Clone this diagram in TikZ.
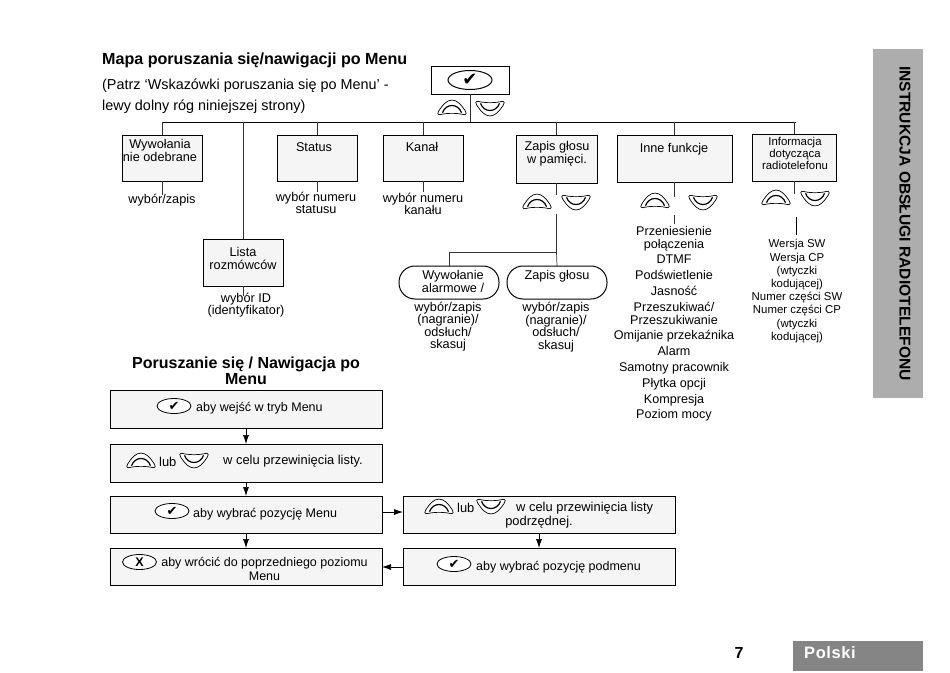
\documentclass[tikz,border=0pt]{standalone}
\usepackage{fontspec}
\setmainfont{Liberation Sans}
\newfontfamily\symfont{DejaVu Sans}
\usetikzlibrary{arrows.meta}
\tikzset{
  menubox/.style={draw=black,line width=1pt,fill=black!4,minimum width=#1,inner sep=0pt,outer sep=0pt,anchor=north west},
  boxcap/.style={font=\fontsize{12.7}{13}\selectfont,align=center,inner sep=0pt,anchor=north},
  smallcap/.style={font=\fontsize{11.4}{12}\selectfont,align=center,inner sep=0pt,anchor=north},
  listcap/.style={font=\fontsize{12.6}{15.8}\selectfont,align=center,inner sep=0pt,anchor=north},
  navtext/.style={font=\fontsize{12.9}{14}\selectfont,align=center,inner sep=0pt},
  navtextb/.style={font=\fontsize{12.5}{14}\selectfont,align=center,inner sep=0pt},
  link/.style={line width=.7pt,draw=black!80},
  flow/.style={line width=.7pt,-{Latex[length=9pt,width=6pt]}},
  pills/.style={draw=black,line width=1pt,fill=white,rounded corners=16pt,anchor=north west,inner sep=0pt,outer sep=0pt},
  pics/upkey/.style={code={
    \begin{scope}[yscale=1.22]
    \draw[line width=.7pt,fill=white] (-12,5.5) .. controls (-15,5.5) and (-14.5,3.5) .. (-13,2) .. controls (-9,-3) and (-5,-6.5) .. (0,-6.5) .. controls (5,-6.5) and (9,-3) .. (13,2) .. controls (14.5,3.5) and (15,5.5) .. (12,5.5) .. controls (6,4) and (-6,4) .. (-12,5.5) -- cycle;
    \draw[line width=1.2pt] (-9.5,3.8) .. controls (-6,-4) and (6,-4) .. (9.5,3.8);
    \end{scope}
  }},
  pics/downkey/.style={code={
    \begin{scope}[yscale=1.22]
    \draw[line width=.7pt,fill=white] (-12,-5.5) .. controls (-15,-5.5) and (-14.5,-3.5) .. (-13,-2) .. controls (-9,3) and (-5,6.5) .. (0,6.5) .. controls (5,6.5) and (9,3) .. (13,-2) .. controls (14.5,-3.5) and (15,-5.5) .. (12,-5.5) .. controls (6,-4) and (-6,-4) .. (-12,-5.5) -- cycle;
    \draw[line width=1.2pt] (-9.5,-3.8) .. controls (-6,4) and (6,4) .. (9.5,-3.8);
    \end{scope}
  }},
  pics/okkey/.style={code={
    \draw[line width=.8pt,fill=white] (0,0) ellipse (17 and 7.5);
    \node[inner sep=0pt,font=\symfont\fontsize{13}{13}\selectfont] at (0,0) {✔};
  }},
  pics/okbig/.style={code={
    \draw[line width=1pt,fill=white] (0,0) ellipse (22 and 9.5);
    \node[inner sep=0pt,font=\symfont\fontsize{18}{18}\selectfont] at (0,0) {✔};
  }},
  pics/xkey/.style={code={
    \draw[line width=.8pt,fill=white] (0,0) ellipse (17 and 7.5);
    \node[inner sep=0pt,font=\bfseries\fontsize{12.5}{12.5}\selectfont] at (0,0) {X};
  }},
}
\begin{document}
\begin{tikzpicture}[x=1pt,y=-1pt]
\useasboundingbox (0,0) rectangle (950,672);
% side tabs
\fill[black!32] (873,49) rectangle (923,398);
\fill[black!48] (793,641) rectangle (923,671);
\node[rotate=-90,font=\bfseries\fontsize{15.6}{16}\selectfont,inner sep=0pt] (side) at (905,223.5) {INSTRUKCJA OBSŁUGI RADIOTELEFONU};
\node[font=\bfseries\fontsize{16.5}{17}\selectfont,text=white,inner sep=0pt,anchor=west] (polski) at (804,653) {P\kern.6pt o\kern.6pt l\kern.6pt s\kern.6pt k\kern.6pt i};
\node[font=\bfseries\fontsize{16}{16}\selectfont,inner sep=0pt] (pagenum) at (739,653) {7};
% headings
\node[font=\bfseries\fontsize{16.1}{17}\selectfont,inner sep=0pt,anchor=west] (title) at (102,60) {Mapa poruszania się/nawigacji po Menu};
\node[font=\fontsize{14.4}{21}\selectfont,inner sep=0pt,anchor=north west,align=left] (note) at (102,79) {(Patrz ‘Wskazówki poruszania się po Menu’ -\\lewy dolny róg niniejszej strony)};
\node[font=\bfseries\fontsize{16}{16}\selectfont,inner sep=0pt,align=center] (navtitle) at (246,371) {Poruszanie się / Nawigacja po\\Menu};
% top box
\node[menubox=78pt,minimum height=28pt,fill=white] (top) at (431,66) {};
\pic at (470,80) {okbig};
\coordinate (busL) at (162,122);
\coordinate (busR) at (796,122);
\coordinate (busT) at (470,122);
\draw[link] (top.south) -- (busT);
\draw[link,draw=black] (busL) -- (busR);
\pic at (452,108) {upkey};
\pic at (490,108) {downkey};
% menu boxes
\node[menubox=80pt,minimum height=46pt] (a) at (122,135) {};
\node[menubox=80pt,minimum height=46pt] (b) at (277,135) {};
\node[menubox=80pt,minimum height=46pt] (c) at (383,135) {};
\node[menubox=81pt,minimum height=48pt] (d) at (516,135) {};
\node[menubox=115pt,minimum height=47pt] (e) at (617,135) {};
\node[menubox=84pt,minimum height=47pt] (f) at (752,134) {};
\node[menubox=80pt,minimum height=47pt] (g) at (203,239) {};
\node[boxcap] (at) at (160,139) {Wywołania\\nie odebrane};
\node[boxcap] (bt) at (314,142) {Status};
\node[boxcap] (ct) at (422,142) {Kanał};
\node[boxcap] (dt) at (557,141) {Zapis głosu\\w pamięci.};
\node[boxcap] (et) at (674,143) {Inne funkcje};
\node[smallcap] (ft) at (795,137) {Informacja\\dotycząca\\radiotelefonu};
\node[boxcap] (gt) at (243,247.5) {Lista\\rozmówców};
% bus drops
\draw[link] (a.north |- busL) -- (a.north);
\draw[link] (b.north |- busL) -- (b.north);
\draw[link] (c.north |- busL) -- (c.north);
\draw[link] (d.north |- busL) -- (d.north);
\draw[link] (e.north |- busL) -- (e.north);
\draw[link] (f.north |- busL) -- (f.north);
\draw[link] (g.north |- busL) -- (g.north);
% stubs
\coordinate (aS) at (162,195);
\coordinate (bS) at (317,192);
\coordinate (cS) at (423,192);
\coordinate (gS) at (243,296);
\draw[link] (a.south) -- (aS);
\draw[link] (b.south) -- (bS);
\draw[link] (c.south) -- (cS);
\draw[link] (g.south) -- (gS);
\coordinate (dS) at (556.5,195);
\coordinate (dT) at (556.5,214);
\coordinate (dJ) at (556.5,252);
\coordinate (eS) at (674.5,197);
\coordinate (eT) at (674.5,215);
\coordinate (eU) at (674.5,224);
\coordinate (fS) at (794,194);
\coordinate (fT) at (796,217);
\coordinate (fU) at (796,235);
\draw[link] (d.south) -- (dS);
\draw[link] (e.south) -- (eS);
\draw[link] (f.south) -- (fS);
\draw[link] (eT) -- (eU);
\draw[link,draw=black] (fT) -- (fU);
% key pairs
\pic at (537,202) {upkey};
\pic at (576,202) {downkey};
\pic at (655,201) {upkey};
\pic at (703,202) {downkey};
\pic at (776,198) {upkey};
\pic at (815,198) {downkey};
% pills
\node[pills,minimum width=100pt,minimum height=33pt] (p) at (399,266) {};
\node[pills,minimum width=100pt,minimum height=33pt] (q) at (507,266) {};
\node[boxcap] (pt) at (453,270) {Wywołanie\\alarmowe /};
\node[boxcap] (qt) at (557,270) {Zapis głosu};
\coordinate (pT) at (449,266);
\coordinate (pJ) at (449,252);
\draw[link] (dT) -- (dJ) -- (pJ) -- (pT);
\draw[link] (dJ) -- (q.north);
% captions
\node[boxcap] (al) at (162,194) {wybór/zapis};
\node[boxcap,font=\fontsize{12.7}{12.2}\selectfont] (bl) at (316,191.5) {wybór numeru\\statusu};
\node[boxcap,font=\fontsize{12.7}{12.2}\selectfont] (cl) at (423,192.5) {wybór numeru\\kanału};
\node[boxcap,font=\fontsize{12.7}{12.4}\selectfont] (gl) at (246,293) {wybór ID\\(identyfikator)};
\node[boxcap,font=\fontsize{12.7}{12.4}\selectfont] (pl) at (448,302) {wybór/zapis\\(nagranie)/\\odsłuch/\\skasuj};
\node[boxcap,font=\fontsize{12.7}{12.6}\selectfont] (ql) at (556,302) {wybór/zapis\\(nagranie)/\\odsłuch/\\skasuj};
\node[listcap] (elist) at (674,226) {Przeniesienie\\[-3pt]połączenia\\DTMF\\Podświetlenie\\Jasność\\Przeszukiwać/\\[-3pt]Przeszukiwanie\\Omijanie przekaźnika\\Alarm\\Samotny pracownik\\Płytka opcji\\Kompresja\\Poziom mocy};
\node[smallcap,font=\fontsize{11.4}{13.2}\selectfont] (flist) at (797,239.5) {Wersja SW\\Wersja CP\\(wtyczki\\kodującej)\\Numer części SW\\Numer części CP\\(wtyczki\\kodującej)};
% navigation boxes
\node[menubox=272pt,minimum height=38pt] (n1) at (110,390) {};
\node[menubox=272pt,minimum height=38pt] (n2) at (110,444) {};
\node[menubox=272pt,minimum height=37pt] (n3) at (110,496) {};
\node[menubox=272pt,minimum height=37pt] (n4) at (110,548) {};
\node[menubox=272pt,minimum height=37pt] (n5) at (403,496) {};
\node[menubox=272pt,minimum height=37pt] (n6) at (403,548) {};
\pic at (174,406) {okkey};
\node[navtextb,anchor=west] (n1t) at (196,408.5) {aby wejść w tryb Menu};
\pic at (141,461) {upkey};
\node[navtext,anchor=west] (n2a) at (159,461.5) {lub};
\pic at (194,460) {downkey};
\node[navtext,anchor=west] (n2t) at (223,461.5) {w celu przewinięcia listy.};
\pic at (172,511) {okkey};
\node[navtextb,anchor=west] (n3t) at (193,514) {aby wybrać pozycję Menu};
\pic at (139.5,562) {xkey};
\node[navtextb,anchor=north] (n4t) at (264.5,557) {aby wrócić do poprzedniego poziomu\\Menu};
\pic at (439,507) {upkey};
\node[navtext,anchor=west] (n5a) at (457,508) {lub};
\pic at (491,506) {downkey};
\node[navtext,anchor=west] (n5t) at (516,508) {w celu przewinięcia listy};
\node[navtext] (n5b) at (539,522) {podrzędnej.};
\pic at (454,564) {okkey};
\node[navtextb,anchor=west] (n6t) at (476,567) {aby wybrać pozycję podmenu};
% flow arrows
\coordinate (h1) at (0,512);
\coordinate (h2) at (0,567);
\draw[flow] (n1.south) -- (n2.north);
\draw[flow] (n2.south) -- (n3.north);
\draw[flow] (n3.south) -- (n4.north);
\draw[flow] (n3.east |- h1) -- (n5.west |- h1);
\draw[flow] (n6.west |- h2) -- (n4.east |- h2);
\draw[flow] (n5.south) -- (n6.north);
\end{tikzpicture}
\end{document}
